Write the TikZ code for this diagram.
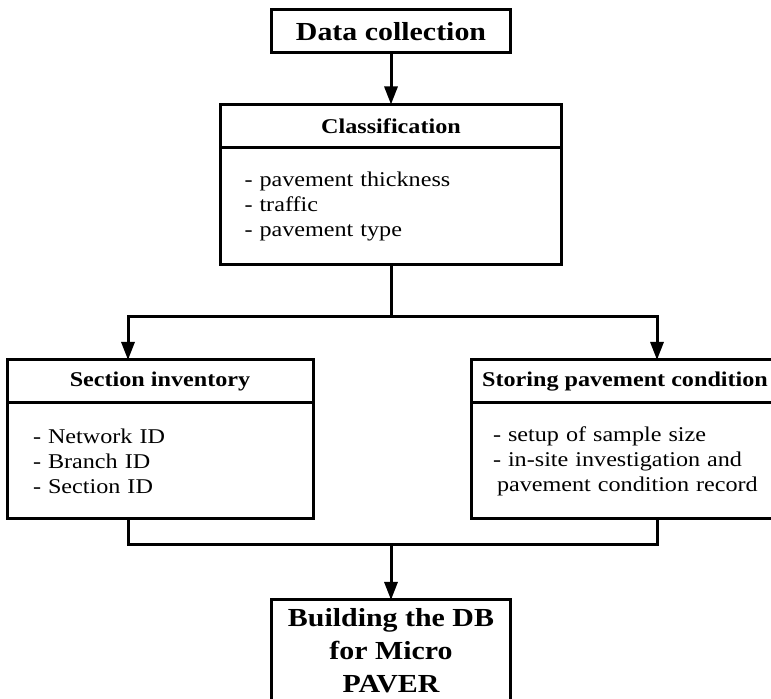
\documentclass[tikz,border=0pt]{standalone}
\usepackage{fontspec}
\setmainfont[FakeStretch=1.15]{Liberation Serif}
\usetikzlibrary{arrows.meta}
\begin{document}
\begin{tikzpicture}[x=0.5pt,y=-0.5pt,
  box/.style={draw,line width=1.5pt,inner sep=0pt,outer sep=0pt},
  big/.style={box,minimum width=119.5pt,align=center,font=\bfseries\fontsize{13}{16.5}\selectfont},
  head/.style={box,minimum height=21.5pt,font=\bfseries\fontsize{10.5}{12.6}\selectfont},
  body/.style={box,anchor=north,align=left,font=\fontsize{10.5}{12.5}\selectfont},
  link/.style={line width=1.5pt},
  flow/.style={link,-{Triangle[length=9pt,width=6.5pt]}}]
\useasboundingbox (0,0) rectangle (771,699);
\node[big,minimum height=21.5pt] (dc) at (391,31.5) {Data collection};
\node[head,minimum width=170.5pt] (clshead) at (391,126) {Classification};
\node[body,text width=146.5pt,inner xsep=12pt,minimum height=58.5pt] (clsbody) at (clshead.south)
  {- pavement thickness\\- traffic\\- pavement type};
\node[head,minimum width=153pt] (sechead) at (160,381.5) {Section inventory};
\node[body,text width=127pt,inner xsep=13pt,minimum height=58pt] (secbody) at (sechead.south)
  {- Network ID\\- Branch ID\\- Section ID};
\node[head,minimum width=154pt] (stohead) at (625,381.5) {Storing pavement condition};
\node[body,text width=132pt,inner xsep=11pt,minimum height=58pt] (stobody) at (stohead.south)
  {- setup of sample size\\- in-site investigation and\\\mbox{\hspace*{2pt}pavement condition record}};
\node[big,minimum height=51pt] (db) at (391,651) {Building the DB\\for Micro\\PAVER};
\coordinate (lcol) at (128,0);
\coordinate (rcol) at (657,0);
\coordinate (fork) at (391,317);
\coordinate (merge) at (391,545);
\draw[flow] (dc) -- (clshead);
\draw[link] (clsbody) -- (fork);
\draw[flow] (fork) -| (sechead.north -| lcol);
\draw[flow] (fork) -| (stohead.north -| rcol);
\draw[link] (secbody.south -| lcol) |- (merge) -| (stobody.south -| rcol);
\draw[flow] (merge) -- (db);
\end{tikzpicture}
\end{document}
